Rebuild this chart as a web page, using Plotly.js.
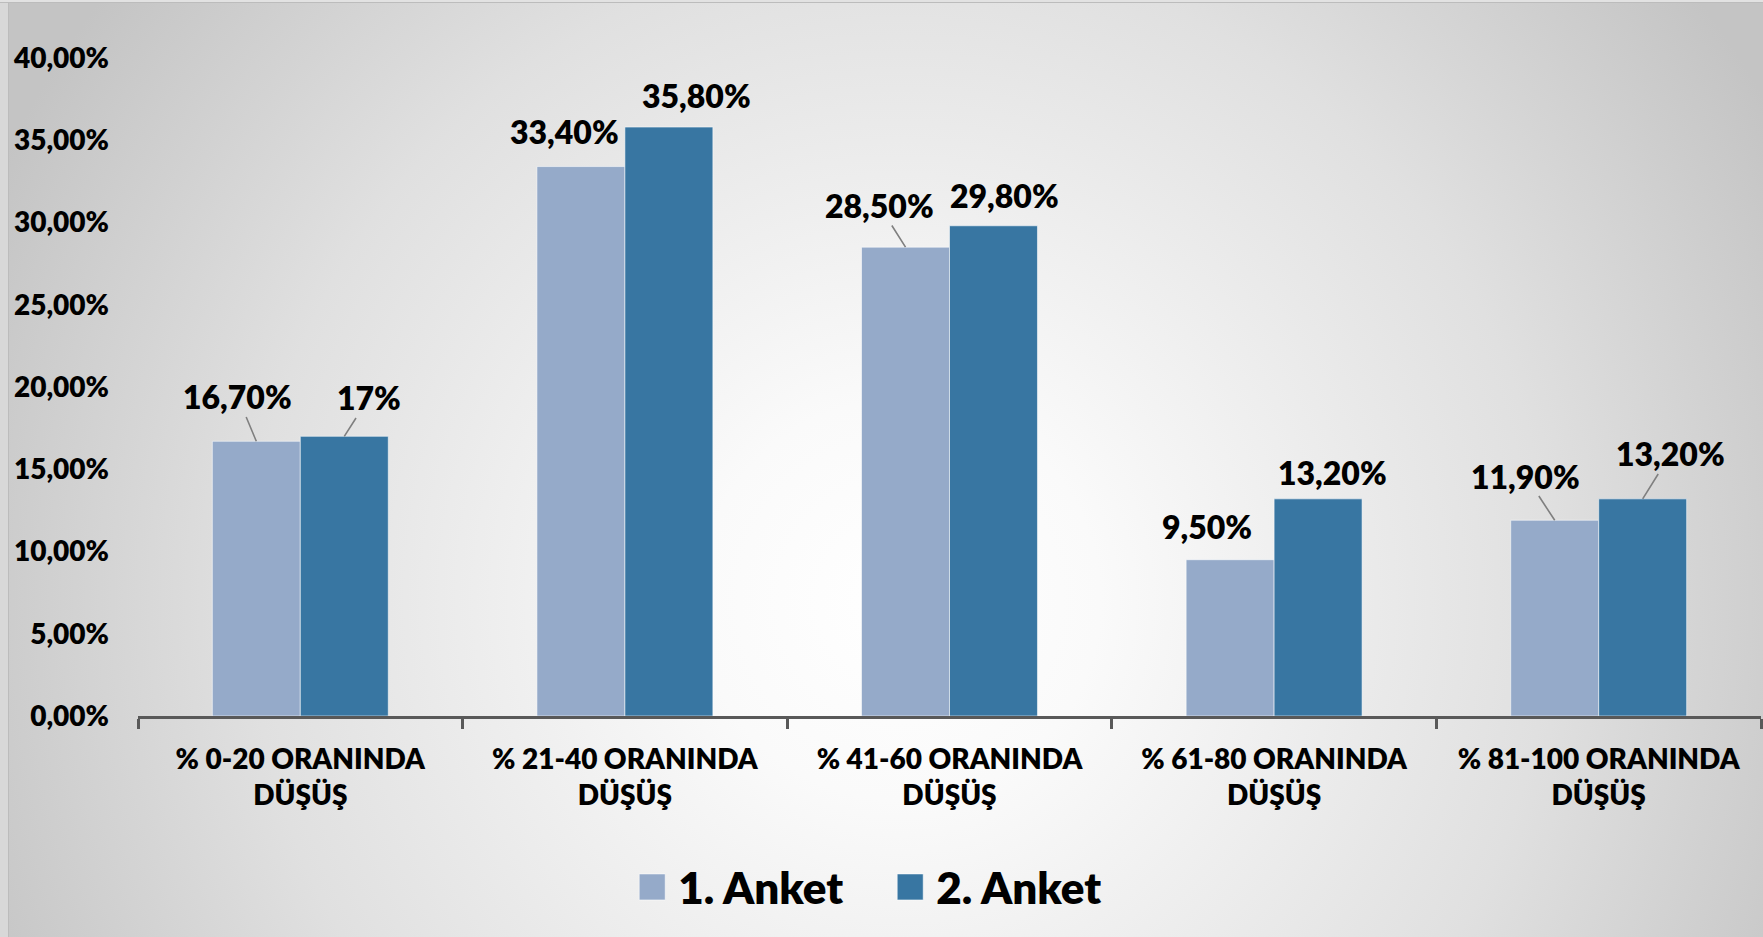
<!DOCTYPE html>
<html>
<head>
<meta charset="utf-8">
<script src="https://cdn.plot.ly/plotly-3.0.1.min.js"></script>
<style>
html, body { margin: 0; padding: 0; background: #ffffff; }
#wrap {
  position: relative; width: 1763px; height: 937px; overflow: hidden;
  background: radial-gradient(circle 1000px at 900px 600px, #ffffff 0%, #fafafa 20%, #e0e0e0 65%, #c4c4c4 100%);
}
#wrap:before {
  content: ""; position: absolute; left: 0; top: 0; width: 8px; height: 937px;
  background: #d8d8d8; border-right: 1px solid #bcbcbc; z-index: 2;
}
#wrap:after {
  content: ""; position: absolute; left: 0; top: 0; width: 1763px; height: 2px;
  background: #e2e2e2; border-bottom: 1px solid #bcbcbc; z-index: 2;
}
#chart { position: absolute; left: 0; top: 0; width: 1763px; height: 937px; z-index: 1; }
</style>
</head>
<body>
<div id="wrap"><div id="chart"></div></div>
<script>
// ---- data ----
const categories = [
  '% 0-20 ORANINDA<br>DÜŞÜŞ',
  '% 21-40 ORANINDA<br>DÜŞÜŞ',
  '% 41-60 ORANINDA<br>DÜŞÜŞ',
  '% 61-80 ORANINDA<br>DÜŞÜŞ',
  '% 81-100 ORANINDA<br>DÜŞÜŞ'
];
const seriesNames = ['1. Anket', '2. Anket'];
const anket1 = [16.7, 33.4, 28.5, 9.5, 11.9];
const anket2 = [17, 35.8, 29.8, 13.2, 13.2];
const yTickVals = [0, 5, 10, 15, 20, 25, 30, 35, 40];
const yTickText = yTickVals.map(v => v.toFixed(2).replace('.', ',') + '%');

// ---- styling ----
const colors = ['#95aac9', '#3876a2'];
const FONT = 'Lato, "Open Sans", "Liberation Sans", sans-serif';
const W = 800;
const bargap = 0.458;
// label placement (pixel offsets from bar top centre) and leader lines
const labelDx = [[-18.5, -16.4, -26.3, -23.5, -29], [24.5, 27.3, 10.8, 14.3, 28]];
const labelDy = [[-44.3, -35.1, -41.7, -33.2, -44.2], [-38.4, -31.1, -30.3, -26.4, -44.9]];
const leader = [[true, false, true, false, true], [true, false, false, false, true]];

function fmt(v) {
  return Number.isInteger(v) ? v + '%' : v.toFixed(2).replace('.', ',') + '%';
}

const seriesVals = [anket1, anket2];
const traces = seriesVals.map((vals, s) => ({
  type: 'bar',
  name: seriesNames[s],
  x: categories,
  y: vals,
  marker: { color: colors[s], line: { color: 'rgba(255,255,255,0.55)', width: 1 } },
  hoverinfo: 'x+y'
}));

const barOffset = (1 - bargap) / 4;
const annotations = [];
seriesVals.forEach((vals, s) => {
  vals.forEach((v, i) => {
    annotations.push({
      x: i + (s === 0 ? -barOffset : barOffset),
      y: v,
      xref: 'x', yref: 'y',
      text: fmt(v),
      showarrow: true,
      arrowhead: 0,
      arrowwidth: 1.6,
      arrowcolor: leader[s][i] ? '#7f7f7f' : 'rgba(0,0,0,0)',
      standoff: 0,
      ax: labelDx[s][i],
      ay: labelDy[s][i],
      borderpad: 0,
      font: { family: FONT, size: 32, color: '#000000', weight: W }
    });
  });
});

const layout = {
  width: 1763,
  height: 937,
  margin: { l: 138, r: 2, t: 58, b: 221, pad: 0 },
  paper_bgcolor: 'rgba(0,0,0,0)',
  plot_bgcolor: 'rgba(0,0,0,0)',
  separators: ',.',
  barmode: 'group',
  bargap: bargap,
  bargroupgap: 0,
  font: { family: FONT, color: '#000000', weight: W },
  xaxis: {
    type: 'category',
    showline: true, linecolor: '#595959', linewidth: 3,
    ticks: 'outside', ticklen: 10, tickwidth: 3, tickcolor: '#595959',
    tickson: 'boundaries',
    showgrid: false, zeroline: false,
    tickfont: { family: FONT, size: 28, color: '#000000', weight: W },
    ticklabelstandoff: 16
  },
  yaxis: {
    range: [0, 40],
    tickmode: 'array',
    tickvals: yTickVals,
    ticktext: yTickText,
    showline: false, showgrid: false, zeroline: false,
    ticks: '',
    ticklabelstandoff: 28,
    tickfont: { family: FONT, size: 28, color: '#000000', weight: W }
  },
  showlegend: true,
  legend: {
    orientation: 'h',
    xref: 'container', yref: 'container',
    x: 0.362, y: 0.053,
    xanchor: 'left', yanchor: 'middle',
    entrywidth: 213, entrywidthmode: 'pixels',
    bgcolor: 'rgba(0,0,0,0)',
    font: { family: FONT, size: 44, color: '#000000', weight: W },
    itemclick: false, itemdoubleclick: false
  },
  annotations: annotations
};

Plotly.newPlot('chart', traces, layout, { displayModeBar: false, staticPlot: true }).then(gd => {
  // enlarge the legend swatches to match the reference's large squares
  gd.querySelectorAll('.legend .legendpoints path').forEach(p => {
    p.setAttribute('d', 'M1,13H27V-13H1Z');
    p.removeAttribute('transform');
    p.style.strokeWidth = '1px';
  });
});
</script>
</body>
</html>
